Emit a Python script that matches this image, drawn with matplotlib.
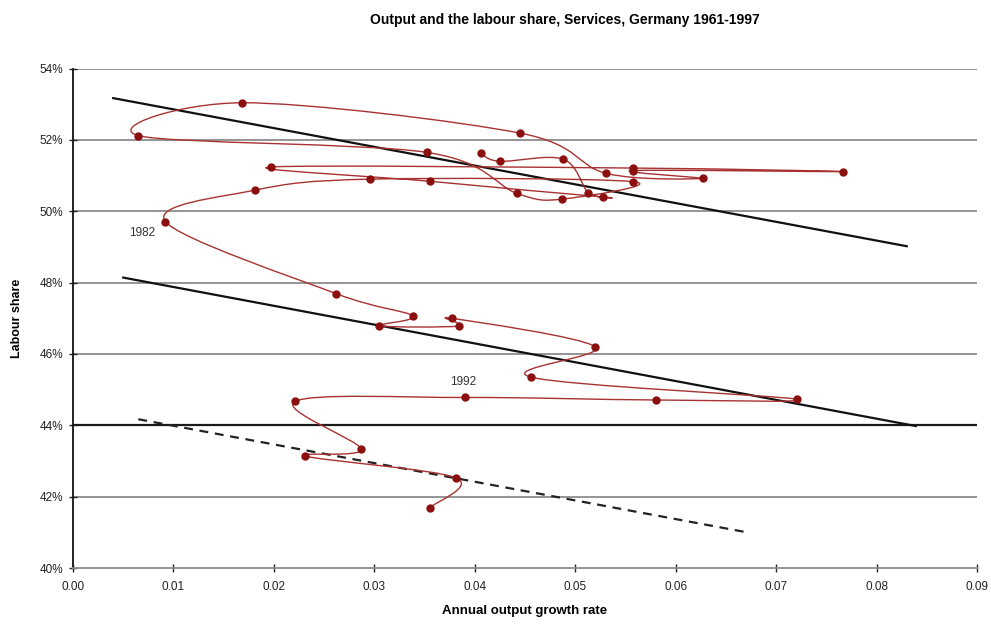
import matplotlib
matplotlib.use("Agg")
import matplotlib.pyplot as plt
import numpy as np
from matplotlib.path import Path
from matplotlib.patches import PathPatch
from matplotlib.ticker import FuncFormatter

plt.rcParams['font.family'] = ['Liberation Sans', 'DejaVu Sans']

# Annual output growth (fraction) and labour share (%) of services, 1961-1997
years = list(range(1961, 1998))
growth = [0.0406, 0.0425, 0.0488, 0.0513, 0.0528, 0.0355, 0.0197, 0.0557,
          0.0767, 0.0557, 0.0627, 0.0531, 0.0445, 0.0168, 0.0065, 0.0352,
          0.0442, 0.0487, 0.0557, 0.0296, 0.0181, 0.0092, 0.0262, 0.0338,
          0.0305, 0.0384, 0.0377, 0.0520, 0.0456, 0.0721, 0.0580, 0.0390,
          0.0221, 0.0287, 0.0231, 0.0381, 0.0355]
labour_share = [51.62, 51.40, 51.46, 50.51, 50.40, 50.84, 51.24, 51.21,
                51.11, 51.14, 50.92, 51.06, 52.19, 53.04, 52.12, 51.65,
                50.50, 50.34, 50.83, 50.90, 50.59, 49.71, 47.69, 47.07,
                46.79, 46.78, 47.00, 46.20, 45.35, 44.73, 44.71, 44.78,
                44.67, 43.33, 43.14, 42.53, 41.69]

# Fitted lines for the three periods
fit1_x = [0.0040, 0.0830]
fit1_y = [53.17, 49.02]
fit2_x = [0.0050, 0.0839]
fit2_y = [48.14, 43.98]
fit3_x = [0.0065, 0.0673]
fit3_y = [44.17, 40.99]

labelled_years = [1982, 1992]

y_ticks = [40, 42, 44, 46, 48, 50, 52, 54]
x_ticks = [0.00, 0.01, 0.02, 0.03, 0.04, 0.05, 0.06, 0.07, 0.08, 0.09]

RED = '#a83232'
DARKRED = '#8b0f0f'


def smooth_path(xs, ys):
    """Piecewise cubic Bezier through all points (Catmull-Rom style)."""
    pts = np.column_stack([xs, ys])
    n = len(pts)
    verts = [pts[0]]
    codes = [Path.MOVETO]
    for i in range(n - 1):
        p0 = pts[i - 1] if i > 0 else pts[i]
        p1 = pts[i]
        p2 = pts[i + 1]
        p3 = pts[i + 2] if i + 2 < n else pts[i + 1]
        c1 = p1 + (p2 - p0) / 6.0
        c2 = p2 - (p3 - p1) / 6.0
        verts += [c1, c2, p2]
        codes += [Path.CURVE4] * 3
    return Path(verts, codes)


fig = plt.figure(figsize=(9.91, 6.24), dpi=100)
ax = fig.add_axes([0.0737, 0.0897, 0.9122, 0.8005])
ax.set_xlim(0, 0.09)
ax.set_ylim(40, 54)

# horizontal gridlines
for yv in y_ticks[1:]:
    ax.axhline(yv, color='#8c8c8c', lw=1.3, zorder=1)
ax.axhline(44, color='#1a1a1a', lw=1.6, zorder=1)

# fitted lines
ax.plot(fit1_x, fit1_y, color='#111111', lw=1.6, zorder=2)
ax.plot(fit2_x, fit2_y, color='#111111', lw=1.6, zorder=2)
ax.plot(fit3_x, fit3_y, color='#222222', lw=1.6, ls=(0, (4, 3)), zorder=2)

# smoothed trajectory through the yearly observations
ax.add_patch(PathPatch(smooth_path(growth, labour_share), facecolor='none',
                       edgecolor=RED, lw=1.0, zorder=3))
ax.plot(growth, labour_share, ls='none', marker='o', ms=5,
        color=DARKRED, mec=DARKRED, zorder=4)

label_offsets = {1982: (-17, -8.5), 1992: (-1.5, 11.5)}
for yr in labelled_years:
    i = years.index(yr)
    ax.annotate(str(yr), (growth[i], labour_share[i]),
                xytext=label_offsets[yr], textcoords='offset points',
                ha='center', va='center', fontsize=8.5, color='#333333')

ax.set_xticks(x_ticks)
ax.set_yticks(y_ticks)
ax.xaxis.set_major_formatter(FuncFormatter(lambda v, p: f'{v:.2f}'))
ax.yaxis.set_major_formatter(FuncFormatter(lambda v, p: f'{v:.0f}%'))
ax.tick_params(axis='both', direction='inout', length=6, width=1,
               labelsize=8.5, colors='#222222')
ax.tick_params(axis='x', pad=6)
ax.tick_params(axis='y', pad=4)

for side in ['top', 'right']:
    ax.spines[side].set_visible(False)
ax.spines['left'].set_color('#111111')
ax.spines['left'].set_linewidth(1.3)
ax.spines['bottom'].set_color('#8c8c8c')
ax.spines['bottom'].set_linewidth(1.3)

ax.set_xlabel('Annual output growth rate', fontsize=9.5, fontweight='bold',
              labelpad=9)
ax.set_ylabel('Labour share', fontsize=9, fontweight='bold', labelpad=12)
fig.text(0.570, 0.968, 'Output and the labour share, Services, Germany 1961-1997',
         ha='center', va='center', fontsize=10, fontweight='bold')

fig.savefig('out.png', dpi=100, facecolor='white')
